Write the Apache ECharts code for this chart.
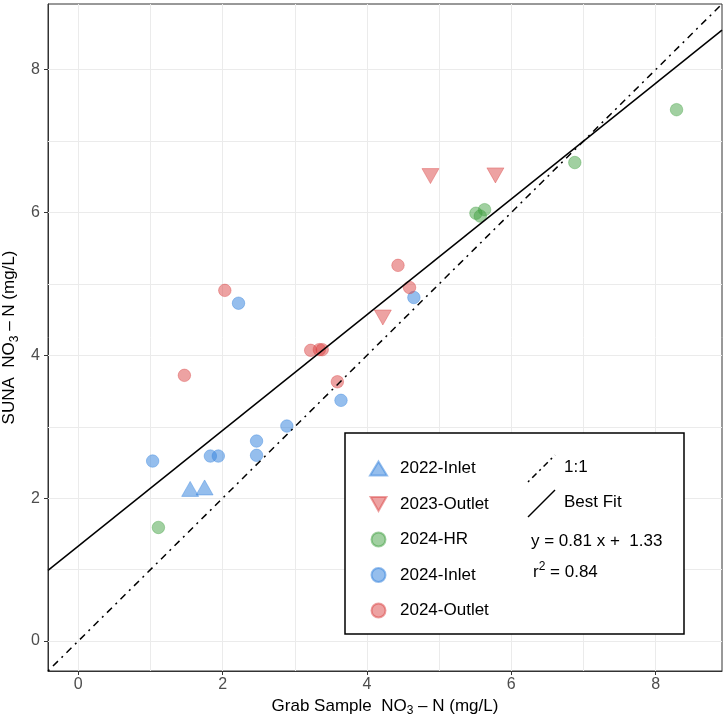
<!DOCTYPE html>
<html lang="en" style="height: 100%">
<head>
  <meta charset="utf-8">
</head>
<body style="height: 100%; margin: 0; background: #fff">
  <div id="container" style="width: 726px; height: 720px"></div>

  <script type="text/javascript" src="https://cdn.jsdelivr.net/npm/echarts@6/dist/echarts.min.js"></script>
  <script type="text/javascript">
    // data: [grab sample, SUNA]
    const inlet2022 = [[1.55, 2.13], [1.75, 2.15]];
    const outlet2023 = [[4.88, 6.51], [5.78, 6.52], [4.22, 4.53]];
    const hr2024 = [[1.11, 1.59], [5.51, 5.99], [5.63, 6.04], [5.57, 5.95], [6.88, 6.70], [8.29, 7.44]];
    const inlet2024 = [[2.22, 4.73], [2.89, 3.01], [2.47, 2.80], [2.47, 2.60], [1.83, 2.59],
                       [1.94, 2.59], [1.03, 2.52], [4.65, 4.81], [3.64, 3.37]];
    const outlet2024 = [[2.03, 4.91], [1.47, 3.72], [4.43, 5.26], [4.59, 4.95], [3.22, 4.07],
                        [3.34, 4.08], [3.38, 4.08], [3.59, 3.63]];

    const fitSlope = 0.81;
    const fitIntercept = 1.33;
    const fitR2 = 0.84;

    const axisMin = -0.42;
    const axisMax = 8.92;
    const tickVals = [0, 2, 4, 6, 8];
    const gridVals = [0, 1, 2, 3, 4, 5, 6, 7, 8];

    const blue = 'rgba(60, 135, 222, 0.68)';
    const red = 'rgba(218, 66, 66, 0.62)';
    const green = 'rgba(64, 160, 64, 0.62)';
    const font = 'Liberation Sans, Arial, sans-serif';
    const downTriangle = 'path://M0 0L17 0L8.5 15Z';

    var myChart = echarts.init(document.getElementById('container'), null, { renderer: 'canvas' });

    const titleRich = {
      a: { fontSize: 17, color: '#000', fontFamily: font, lineHeight: 17 },
      s: { fontSize: 12, color: '#000', fontFamily: font, lineHeight: 21, verticalAlign: 'bottom' }
    };

    function valueAxis(name, margin, gap) {
      return {
        type: 'value',
        min: axisMin,
        max: axisMax,
        name: name,
        nameLocation: 'middle',
        nameGap: gap,
        nameTextStyle: { rich: titleRich },
        axisLine: { show: true, onZero: false, lineStyle: { color: '#333', width: 1 } },
        axisTick: { show: true, customValues: tickVals, length: 4, lineStyle: { color: '#333', width: 1 } },
        axisLabel: { customValues: tickVals, color: '#4d4d4d', fontSize: 16, fontFamily: font, margin: margin },
        splitLine: { show: false }
      };
    }

    const gridLines = gridVals.map(v => ({ xAxis: v })).concat(gridVals.map(v => ({ yAxis: v })));

    function pointSeries(name, data, color, symbol, size) {
      return {
        name: name,
        type: 'scatter',
        data: data,
        symbol: symbol,
        symbolSize: size,
        itemStyle: { color: color, borderColor: color, borderWidth: 0.8 },
        z: 3
      };
    }

    const option = {
      animation: false,
      grid: {
        left: 48, right: 4, top: 4, bottom: 49,
        outerBoundsMode: 'none', containLabel: false,
        show: true, borderColor: '#333', borderWidth: 1, backgroundColor: '#fff'
      },
      xAxis: valueAxis('{a|Grab Sample  NO}{s|3}{a| – N (mg/L)}', 6, 24),
      yAxis: valueAxis('{a|SUNA  NO}{s|3}{a| – N (mg/L)}', 8, 24),
      legend: {
        orient: 'vertical',
        left: 369,
        top: 460,
        padding: 0,
        itemWidth: 17,
        itemHeight: 14,
        itemGap: 18.5,
        z: 6,
        textStyle: { fontSize: 17, color: '#000', fontFamily: font, padding: [0, 0, 0, 8], lineHeight: 17 },
        data: ['2022-Inlet', '2023-Outlet', '2024-HR', '2024-Inlet', '2024-Outlet']
      },
      graphic: [
        { type: 'rect', shape: { x: 345, y: 433, width: 339, height: 201 },
          style: { fill: '#fff', stroke: '#000', lineWidth: 1.5 }, z: 5 },
        { type: 'line', shape: { x1: 528, y1: 482, x2: 555, y2: 455 },
          style: { stroke: '#000', lineWidth: 1.5, lineDash: [2, 4, 6, 4] }, z: 6 },
        { type: 'text', left: 564, top: 459, z: 6,
          style: { text: '1:1', fontSize: 17, fill: '#000', fontFamily: font } },
        { type: 'line', shape: { x1: 528, y1: 517, x2: 555, y2: 490 },
          style: { stroke: '#000', lineWidth: 1.5 }, z: 6 },
        { type: 'text', left: 564, top: 494, z: 6,
          style: { text: 'Best Fit', fontSize: 17, fill: '#000', fontFamily: font } },
        { type: 'text', left: 531, top: 533, z: 6,
          style: { text: 'y = ' + fitSlope.toFixed(2) + ' x +  ' + fitIntercept.toFixed(2), fontSize: 17, fill: '#000', fontFamily: font } },
        { type: 'text', left: 533, top: 561, z: 6,
          style: {
            text: '{a|r}{p|2}{a| = ' + fitR2.toFixed(2) + '}',
            rich: {
              a: { fontSize: 17, fill: '#000', fontFamily: font, lineHeight: 17 },
              p: { fontSize: 12, fill: '#000', fontFamily: font, lineHeight: 22, verticalAlign: 'top' }
            }
          } }
      ],
      series: [
        {
          name: 'grid',
          type: 'line',
          data: [],
          z: 1,
          silent: true,
          markLine: {
            silent: true,
            z: 1,
            symbol: 'none',
            animation: false,
            label: { show: false },
            emphasis: { disabled: true },
            lineStyle: { color: '#ebebeb', width: 1, type: 'solid' },
            data: gridLines
          }
        },
        pointSeries('2022-Inlet', inlet2022, blue, 'triangle', [17, 15]),
        pointSeries('2023-Outlet', outlet2023, red, downTriangle, [17, 15]),
        pointSeries('2024-HR', hr2024, green, 'circle', 12.5),
        pointSeries('2024-Inlet', inlet2024, blue, 'circle', 12.5),
        pointSeries('2024-Outlet', outlet2024, red, 'circle', 12.5),
        {
          name: '1:1',
          type: 'line',
          data: [[axisMin, axisMin], [axisMax, axisMax]],
          symbol: 'none',
          lineStyle: { color: '#000', width: 1.5, type: [2, 5, 7, 5] },
          z: 4,
          silent: true
        },
        {
          name: 'Best Fit',
          type: 'line',
          data: [axisMin, axisMax].map(x => [x, fitSlope * x + fitIntercept]),
          symbol: 'none',
          lineStyle: { color: '#000', width: 1.5 },
          z: 4,
          silent: true
        }
      ]
    };

    myChart.setOption(option);
    window.addEventListener('resize', myChart.resize);
  </script>
</body>
</html>
